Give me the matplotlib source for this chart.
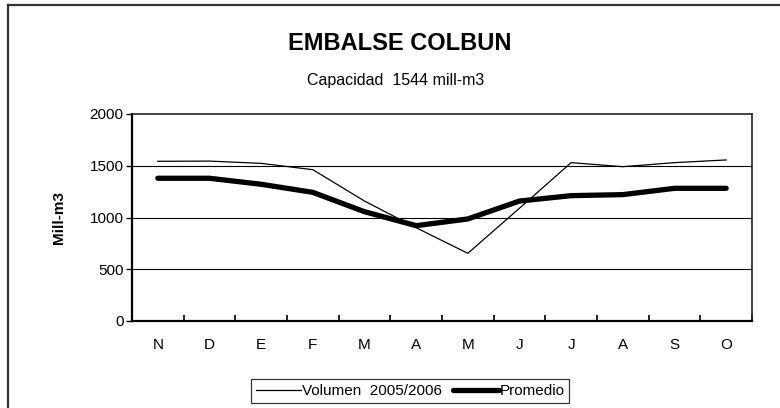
import matplotlib
matplotlib.use("Agg")
import matplotlib.pyplot as plt
from matplotlib.lines import Line2D

plt.rcParams['font.family'] = ['Liberation Sans', 'DejaVu Sans']

meses = ["N", "D", "E", "F", "M", "A", "M", "J", "J", "A", "S", "O"]
volumen = [1543, 1545, 1523, 1462, 1159, 901, 654, 1090, 1530, 1491, 1530, 1556]
promedio = [1379, 1379, 1321, 1243, 1056, 921, 986, 1159, 1211, 1221, 1282, 1282]
y_ticks = [0, 500, 1000, 1500, 2000]

fig = plt.figure(figsize=(7.8, 4.08), dpi=100)
ax = fig.add_axes([132/780, 1-321/408, 620/780, 207/408])

x = list(range(len(meses)))
ax.plot(x, volumen, color='black', lw=0.9, label="Volumen  2005/2006")
ax.plot(x, promedio, color='black', lw=3.8, solid_capstyle='round',
        solid_joinstyle='round', label="Promedio")

ax.set_xlim(-0.5, len(meses) - 0.5)
ax.set_ylim(0, 2000)
ax.set_yticks(y_ticks)
ax.set_xticks([i + 0.5 for i in range(-1, len(meses))], minor=False)
ax.set_xticklabels([])
ax.set_xticks(x, minor=True)
ax.set_xticklabels(meses, minor=True, fontsize=11)
ax.tick_params(axis='x', which='major', direction='in', length=4.5, width=1.2)
ax.tick_params(axis='x', which='minor', length=0, pad=12)
ax.tick_params(axis='y', direction='out', length=4, width=1, labelsize=11, pad=2)

for v in y_ticks[1:-1]:
    ax.axhline(v, color='black', lw=0.8, zorder=0)

for s in ['left', 'bottom']:
    ax.spines[s].set_linewidth(1.6)
for s in ['top', 'right']:
    ax.spines[s].set_linewidth(1.2)
    ax.spines[s].set_color('#222222')

ax.set_ylabel("Mill-m3", fontsize=11, fontweight='bold', labelpad=17)

fig.text(0.512, 1-43.5/408, "EMBALSE COLBUN", ha='center', va='center',
         fontsize=17, fontweight='bold')
fig.text(0.507, 1-81/408, "Capacidad  1544 mill-m3", ha='center', va='center',
         fontsize=11.5)

leg = fig.legend(loc='center', bbox_to_anchor=(410/780, 1-391/408), ncol=2,
                 fontsize=11, frameon=True, fancybox=False, shadow=False,
                 handlelength=3.0, handletextpad=0.05, columnspacing=0.7,
                 borderpad=0.3, borderaxespad=0)
leg.get_frame().set_edgecolor('black')
leg.get_frame().set_linewidth(0.9)

# marco exterior (solo izquierda y arriba visibles)
fig.add_artist(Line2D([8/780, 8/780], [0, 1-5/408], color='#333333', lw=1.6,
                      transform=fig.transFigure))
fig.add_artist(Line2D([8/780, 1], [1-5/408, 1-5/408], color='#333333', lw=1.6,
                      transform=fig.transFigure))

fig.savefig("out.png", dpi=100)
